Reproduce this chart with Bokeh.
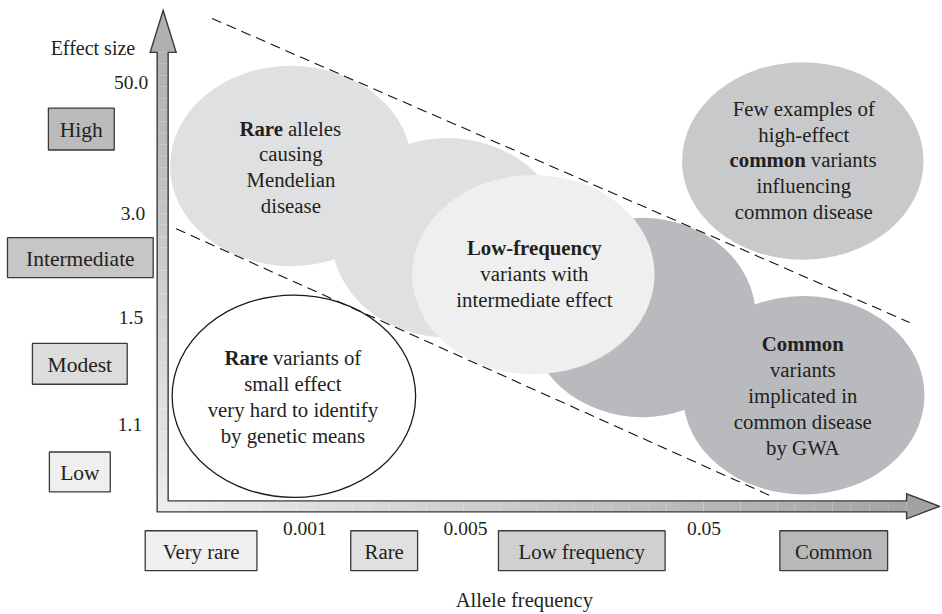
from bokeh.plotting import figure
from bokeh.models import Range1d
from bokeh.core.properties import value
from bokeh.embed import file_html
from bokeh.resources import INLINE

# ---------------- data (texts / categories) ----------------
y_title = "Effect size"
x_title = "Allele frequency"
effect_ticks = ["50.0", "3.0", "1.5", "1.1"]
effect_classes = ["High", "Intermediate", "Modest", "Low"]
freq_ticks = ["0.001", "0.005", "0.05"]
freq_classes = ["Very rare", "Rare", "Low frequency", "Common"]

# ellipse captions: (bold part, normal rest) for a mixed line, plain strings otherwise
mendelian_lines = [("Rare", "alleles"), "causing", "Mendelian", "disease"]
lowfreq_lines = [("Low-frequency", ""), "variants with", "intermediate effect"]
few_lines = ["Few examples of", "high-effect", ("common", "variants"), "influencing", "common disease"]
gwa_lines = [("Common", ""), "variants", "implicated in", "common disease", "by GWA"]
rare_small_lines = [("Rare", "variants of"), "small effect", "very hard to identify", "by genetic means"]

# ---------------- layout (positions / styles) ----------------
FONT = value("Liberation Serif")
TXT = "#231f20"
EDGE = "#3a3a3a"

W, H = 940, 612
p = figure(width=W, height=H, x_range=Range1d(0, 942), y_range=Range1d(614, 0),
           output_backend="svg", toolbar_location=None, min_border=0)
p.axis.visible = False
p.grid.visible = False
p.outline_line_color = None
p.background_fill_color = "white"


def shade(t, c0, c1):
    v = int(round(c0 + (c1 - c0) * t))
    return "#%02x%02x%02x" % (v, v, v)


# ---- ellipses (drawn back to front) ----
ell_x = [448, 291, 643, 805, 804, 534, 294]
ell_y = [238, 166, 318, 396, 161, 275, 397]
ell_w = [232, 242, 228, 242, 242, 243, 244]
ell_h = [200, 201, 200, 199, 198, 200, 203]
ell_fill = ["#dfe0e2", "#dfe0e2", "#b9babd", "#b9babd", "#c8c9cb", "#efefef", "white"]
ell_line = [None, None, None, None, None, None, "#1a1a1a"]
for i in range(len(ell_x)):
    p.ellipse(x=ell_x[i], y=ell_y[i], width=ell_w[i], height=ell_h[i],
              fill_color=ell_fill[i], line_color=ell_line[i], line_width=1.3)

# ---- dashed boundary lines ----
p.line(x=[212, 911], y=[18, 323], line_color="#111111", line_width=1.1, line_dash="10 6")
p.line(x=[176, 774], y=[229, 498], line_color="#111111", line_width=1.1, line_dash="10 6")

# ---- L-shaped arrow axes with gradient fill ----
n = 40
vy0, vy1 = 52, 513
for k in range(n):
    a = vy0 + (vy1 - vy0) * k / n
    b = vy0 + (vy1 - vy0) * (k + 1) / n
    p.quad(left=157, right=168, top=a, bottom=b, fill_color=shade(k / (n - 1), 0xb0, 0xec), line_color=None)
hx0, hx1 = 168, 908
for k in range(n):
    a = hx0 + (hx1 - hx0) * k / n
    b = hx0 + (hx1 - hx0) * (k + 1) / n
    p.quad(left=a, right=b, top=502, bottom=513, fill_color=shade(k / (n - 1), 0xec, 0xa4), line_color=None)
p.patch(x=[163, 176, 150], y=[10, 52, 52], fill_color="#b0b0b0", line_color=None)
p.patch(x=[908, 941, 908], y=[495, 507.5, 520], fill_color="#a2a2a2", line_color=None)
p.patch(x=[163, 176, 168, 168, 908, 908, 941, 908, 908, 157, 157, 150],
        y=[10, 52, 52, 502, 502, 495, 507.5, 520, 513, 513, 52, 52],
        fill_alpha=0, line_color=EDGE, line_width=1.4, line_join="miter")

# ---- class boxes: effect size (left) ----
EB_FS = "21.5px"
eb_l = [48, 7, 32, 49]
eb_r = [114, 153, 127, 110]
eb_t = [108, 238, 344, 453]
eb_b = [150, 278, 385, 493]
eb_fill = ["#bbbbbb", "#c6c6c6", "#dcdcdc", "#efefef"]
for i, lab in enumerate(effect_classes):
    p.quad(left=eb_l[i], right=eb_r[i], top=eb_t[i], bottom=eb_b[i],
           fill_color=eb_fill[i], line_color=EDGE, line_width=1.3)
    p.text(x=[(eb_l[i] + eb_r[i]) / 2], y=[(eb_t[i] + eb_b[i]) / 2 + 1], text=[lab],
           text_font=FONT, text_font_size=EB_FS, text_color=TXT,
           text_align="center", text_baseline="middle")

# ---- class boxes: allele frequency (bottom) ----
FB_FS = "20.8px"
fb_l = [145, 351, 499, 781]
fb_r = [257, 418, 666, 889]
fb_fill = ["#f0f0f0", "#e0e0e0", "#d0d0d0", "#b8b8b8"]
for i, lab in enumerate(freq_classes):
    p.quad(left=fb_l[i], right=fb_r[i], top=532, bottom=572,
           fill_color=fb_fill[i], line_color=EDGE, line_width=1.3)
    p.text(x=[(fb_l[i] + fb_r[i]) / 2], y=[553], text=[lab],
           text_font=FONT, text_font_size=FB_FS, text_color=TXT,
           text_align="center", text_baseline="middle")

# ---- tick labels & titles ----
TICK_FS = "19.5px"
et_x = [148, 145, 143, 142]
et_y = [82, 214, 318, 425]
p.text(x=et_x, y=et_y, text=effect_ticks, text_font=FONT, text_font_size=TICK_FS,
       text_color=TXT, text_align="right", text_baseline="middle")
ft_x = [305, 466, 705]
p.text(x=ft_x, y=[530] * 3, text=freq_ticks, text_font=FONT, text_font_size=TICK_FS,
       text_color=TXT, text_align="center", text_baseline="middle")
p.text(x=[135], y=[48], text=[y_title], text_font=FONT, text_font_size="20px",
       text_color=TXT, text_align="right", text_baseline="middle")
p.text(x=[525], y=[601], text=[x_title], text_font=FONT, text_font_size="20.5px",
       text_color=TXT, text_align="center", text_baseline="middle")

# ---- ellipse captions ----
CAP_FS = "20.8px"


def caption(lines, cx, y0, split_x):
    for j, ln in enumerate(lines):
        yy = y0 + 26 * j
        if isinstance(ln, tuple):
            bold, rest = ln
            if rest:
                p.text(x=[split_x], y=[yy], text=[bold], text_font=FONT, text_font_size=CAP_FS,
                       text_font_style="bold", text_color=TXT, text_align="right", text_baseline="middle")
                p.text(x=[split_x + 5], y=[yy], text=[rest], text_font=FONT, text_font_size=CAP_FS,
                       text_color=TXT, text_align="left", text_baseline="middle")
            else:
                p.text(x=[cx], y=[yy], text=[bold], text_font=FONT, text_font_size=CAP_FS,
                       text_font_style="bold", text_color=TXT, text_align="center", text_baseline="middle")
        else:
            p.text(x=[cx], y=[yy], text=[ln], text_font=FONT, text_font_size=CAP_FS,
                   text_color=TXT, text_align="center", text_baseline="middle")


caption(mendelian_lines, 291, 128, 283)
caption(lowfreq_lines, 535, 248, 0)
caption(few_lines, 805, 108, 807)
caption(gwa_lines, 804, 344, 0)
caption(rare_small_lines, 293, 358, 268)

open("out.html", "w").write(file_html(p, INLINE))
